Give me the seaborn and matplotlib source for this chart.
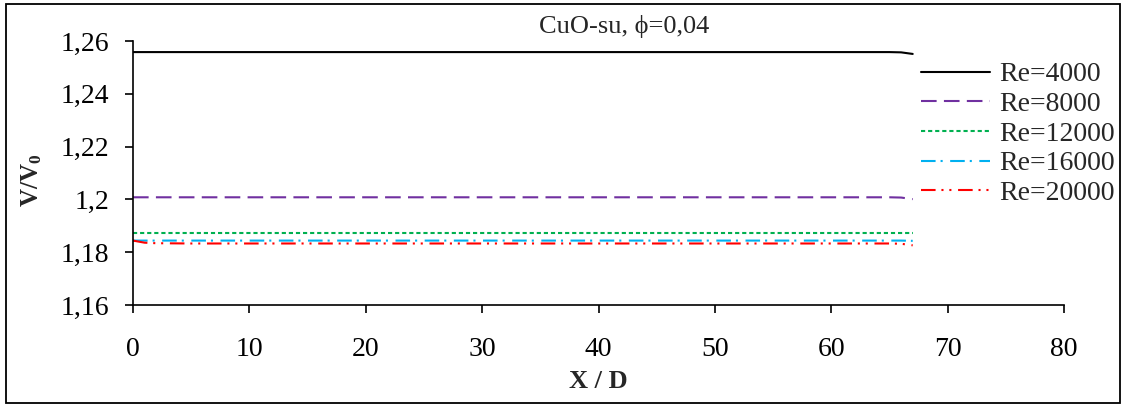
import numpy as np
import pandas as pd
import matplotlib
matplotlib.use("Agg")
import matplotlib.pyplot as plt
from matplotlib.patches import Rectangle
import seaborn as sns

# Axial positions along the pipe (X/D)
x_d = [0, 1, 2, 5, 10, 20, 30, 40, 50, 60, 65, 66, 67]

# Velocity ratio V/V0 for each Reynolds number
v_re4000 = [1.2558, 1.2558, 1.2558, 1.2558, 1.2558, 1.2558, 1.2558, 1.2558, 1.2558, 1.2558, 1.2558, 1.2557, 1.2551]
v_re8000 = [1.2008, 1.2008, 1.2008, 1.2008, 1.2008, 1.2008, 1.2008, 1.2008, 1.2008, 1.2008, 1.2008, 1.2007, 1.2001]
v_re12000 = [1.1873, 1.1873, 1.1873, 1.1873, 1.1873, 1.1873, 1.1873, 1.1873, 1.1873, 1.1873, 1.1873, 1.1873, 1.1873]
v_re16000 = [1.1844, 1.1844, 1.1844, 1.1844, 1.1844, 1.1844, 1.1844, 1.1844, 1.1844, 1.1844, 1.1844, 1.1844, 1.1843]
v_re20000 = [1.1844, 1.1836, 1.1834, 1.1833, 1.1833, 1.1833, 1.1833, 1.1833, 1.1833, 1.1833, 1.1833, 1.1832, 1.1826]

series_labels = ["Re=4000", "Re=8000", "Re=12000", "Re=16000", "Re=20000"]
series_values = [v_re4000, v_re8000, v_re12000, v_re16000, v_re20000]

y_ticks = [1.16, 1.18, 1.2, 1.22, 1.24, 1.26]
y_ticklabels = ["1,16", "1,18", "1,2", "1,22", "1,24", "1,26"]
x_ticks = [0, 10, 20, 30, 40, 50, 60, 70, 80]

rows = []
for lab, vals in zip(series_labels, series_values):
    for xv, yv in zip(x_d, vals):
        rows.append({"X": xv, "V": yv, "Re": lab})
df = pd.DataFrame(rows)

palette = {
    "Re=4000": "#000000",
    "Re=8000": "#7030A0",
    "Re=12000": "#00B050",
    "Re=16000": "#00B0F0",
    "Re=20000": "#FF0000",
}
dashes = {
    "Re=4000": "",
    "Re=8000": (7.5, 3.5),
    "Re=12000": (2.0, 1.4),
    "Re=16000": (7.0, 2.4, 1.0, 3.6),
    "Re=20000": (7.0, 2.8, 1.0, 2.8, 1.0, 3.2),
}

sns.set_style("white")
plt.rcParams["font.family"] = ["Liberation Serif", "DejaVu Serif"]
plt.rcParams["mathtext.fontset"] = "custom"
plt.rcParams["mathtext.rm"] = "Liberation Serif"
plt.rcParams["mathtext.bf"] = "Liberation Serif:bold"

W, H = 1132, 405
fig = plt.figure(figsize=(W / 100, H / 100), dpi=100)
ax = fig.add_axes([133 / W, 1 - 305 / H, (1064 - 133) / W, (305 - 41) / H])

sns.lineplot(
    data=df, x="X", y="V", hue="Re", style="Re",
    hue_order=series_labels, style_order=series_labels,
    palette=palette, dashes=dashes, linewidth=1.5, ax=ax,
)

ax.set_xlim(0, 80)
ax.set_ylim(1.16, 1.26)
ax.set_xticks(x_ticks)
ax.set_xticklabels([str(t) for t in x_ticks])
ax.set_yticks(y_ticks)
ax.set_yticklabels(y_ticklabels)

for side in ("top", "right"):
    ax.spines[side].set_visible(False)
for side in ("left", "bottom"):
    ax.spines[side].set_color("black")
    ax.spines[side].set_linewidth(1.2)

ax.tick_params(axis="both", direction="out", length=6, width=1.2, colors="black",
               labelsize=20, left=True, bottom=True)
ax.tick_params(axis="x", pad=17)
ax.tick_params(axis="y", pad=11)

ax.set_xlabel("X / D", fontsize=19, fontweight="bold", va="center")
ax.xaxis.set_label_coords((598 - 133) / 931, (305 - 381) / 264)
ax.set_ylabel(r"$\mathbf{V/V_0}$", fontsize=18, va="center")
ax.yaxis.set_label_coords((32 - 133) / 931, (305 - 180) / 264)

handles, labels = ax.get_legend_handles_labels()
pairs = [(h, l) for h, l in zip(handles, labels) if l.startswith("Re=")]
leg = ax.legend(
    [p[0] for p in pairs], [p[1] for p in pairs],
    loc="upper left", bbox_to_anchor=(921 / W, 1 - 62 / H),
    bbox_transform=fig.transFigure, frameon=False, fontsize=20,
    handlelength=2.5, handletextpad=0.33, labelspacing=0.15,
    borderpad=0, borderaxespad=0,
)

fig.text(624 / W, 1 - 27 / H, "CuO-su, \u03d5=0,04", ha="center", va="center", fontsize=19)

fig.patches.append(Rectangle((6 / W, 2 / H), (1120 - 6) / W, (402 - 3) / H,
                             transform=fig.transFigure, fill=False,
                             edgecolor="black", linewidth=1.3))

fig.savefig("out.png", dpi=100, facecolor="white")
